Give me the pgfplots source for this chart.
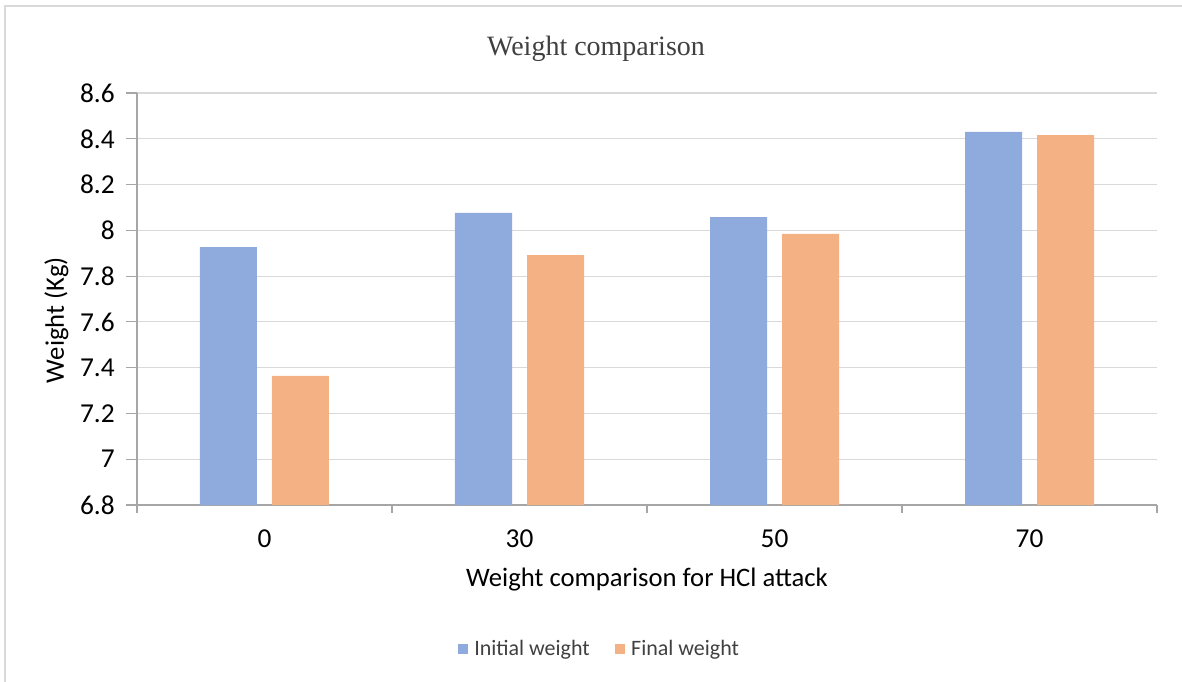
\documentclass[border=0pt]{standalone}
\usepackage{pgfplots}
\pgfplotsset{compat=1.18}
\usepackage{fontspec}
\setmainfont{Carlito}
\newfontfamily\titlefont{Liberation Serif}
\definecolor{initblue}{HTML}{8FAADC}
\definecolor{finalorange}{HTML}{F4B183}
\definecolor{gridgray}{HTML}{D9D9D9}
\definecolor{axisgray}{HTML}{A6A6A6}
\definecolor{textgray}{HTML}{404040}

\begin{document}
\begin{tikzpicture}
% canvas and chart frame
\path[use as bounding box] (-102.75pt,-132.75pt) rectangle (783.75pt,378.75pt);
\draw[gridgray, line width=1pt] (-99pt,-132.75pt) -- (-99pt,374.25pt) -- (783.75pt,374.25pt);
\node[font=\titlefont\fontsize{21pt}{24pt}\selectfont, text=textgray] at (344.25pt,342.5pt) {Weight comparison};

\begin{axis}[
  at={(0pt,0pt)}, anchor=south west,
  scale only axis, width=765pt, height=309pt,
  xmin=-0.5, xmax=3.5, ymin=6.8, ymax=8.6,
  ybar=11.25pt, bar width=42.75pt,
  axis x line*=bottom, axis y line*=left,
  axis line style={axisgray, -, line width=0.8pt},
  tick align=outside,
  ytick={6.8,7.0,7.2,7.4,7.6,7.8,8.0,8.2,8.4,8.6},
  yticklabels={6.8,7,7.2,7.4,7.6,7.8,8,8.2,8.4,8.6},
  ymajorgrids, grid style={gridgray, line width=0.8pt},
  major tick length=8.25pt,
  tick style={axisgray, line width=0.8pt},
  xtick={0,1,2,3}, xticklabels={0,30,50,70},
  x tick style={draw=none},
  extra x ticks={-0.5,0.5,1.5,2.5,3.5}, extra x tick labels={},
  extra x tick style={major tick length=6pt, grid=none,
    x tick style={draw=axisgray, line width=0.8pt}},
  /pgf/number format/assume math mode=true,
  tick label style={font=\fontsize{20.5pt}{23pt}\selectfont, text=black},
  y tick label style={xshift=-5pt},
  x tick label style={yshift=-7pt},
  xlabel={Weight comparison for HCl attack},
  ylabel={Weight (Kg)},
  label style={font=\fontsize{20pt}{23pt}\selectfont, text=black},
  xlabel style={at={(axis description cs:0.5,-0.182)}, anchor=center},
  ylabel style={at={(axis description cs:-0.079,0.449)}, anchor=center},
  legend style={at={(axis description cs:0.4539,-0.3495)}, anchor=center,
    legend columns=2, draw=none, fill=none,
    font=\fontsize{16.5pt}{18pt}\selectfont, text=textgray,
    /tikz/every odd column/.append style={column sep=2.5pt},
    /tikz/every even column/.append style={column sep=17pt}},
  legend image code/.code={\fill[#1] (0pt,-3.75pt) rectangle (7.5pt,3.75pt);},
]
\addplot[fill=initblue, draw=none] coordinates {(0,7.927) (1,8.076) (2,8.058) (3,8.430)};
\addplot[fill=finalorange, draw=none] coordinates {(0,7.364) (1,7.892) (2,7.984) (3,8.416)};
\legend{Initial weight, Final weight}
\end{axis}
\end{tikzpicture}
\end{document}
